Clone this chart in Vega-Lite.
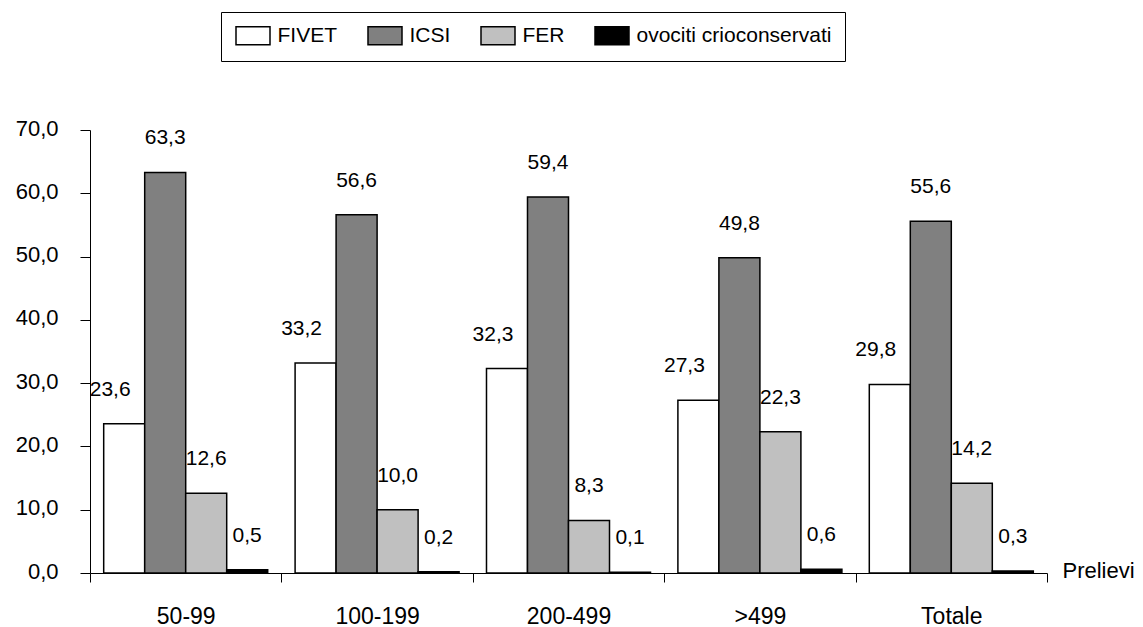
{
  "$schema": "https://vega.github.io/schema/vega-lite/v6.json",
  "width": 957,
  "height": 443,
  "autosize": {"type": "none"},
  "padding": {"left": 90, "top": 130, "right": 96, "bottom": 54},
  "config": {
    "view": {"stroke": null},
    "font": "Liberation Sans",
    "locale": {"number": {"decimal": ",", "thousands": ".", "grouping": [3], "currency": ["", " €"]}},
    "axis": {"domainColor": "black", "tickColor": "black", "labelColor": "black", "titleColor": "black", "grid": false, "domainWidth": 1, "tickWidth": 1}
  },
  "data": {
    "values": [
      {"prelievi": "50-99", "tecnica": "FIVET", "valore": 23.6},
      {"prelievi": "50-99", "tecnica": "ICSI", "valore": 63.3},
      {"prelievi": "50-99", "tecnica": "FER", "valore": 12.6},
      {"prelievi": "50-99", "tecnica": "ovociti crioconservati", "valore": 0.5},
      {"prelievi": "100-199", "tecnica": "FIVET", "valore": 33.2},
      {"prelievi": "100-199", "tecnica": "ICSI", "valore": 56.6},
      {"prelievi": "100-199", "tecnica": "FER", "valore": 10.0},
      {"prelievi": "100-199", "tecnica": "ovociti crioconservati", "valore": 0.2},
      {"prelievi": "200-499", "tecnica": "FIVET", "valore": 32.3},
      {"prelievi": "200-499", "tecnica": "ICSI", "valore": 59.4},
      {"prelievi": "200-499", "tecnica": "FER", "valore": 8.3},
      {"prelievi": "200-499", "tecnica": "ovociti crioconservati", "valore": 0.1},
      {"prelievi": ">499", "tecnica": "FIVET", "valore": 27.3},
      {"prelievi": ">499", "tecnica": "ICSI", "valore": 49.8},
      {"prelievi": ">499", "tecnica": "FER", "valore": 22.3},
      {"prelievi": ">499", "tecnica": "ovociti crioconservati", "valore": 0.6},
      {"prelievi": "Totale", "tecnica": "FIVET", "valore": 29.8},
      {"prelievi": "Totale", "tecnica": "ICSI", "valore": 55.6},
      {"prelievi": "Totale", "tecnica": "FER", "valore": 14.2},
      {"prelievi": "Totale", "tecnica": "ovociti crioconservati", "valore": 0.3}
    ]
  },
  "encoding": {
    "x": {
      "field": "prelievi",
      "type": "nominal",
      "sort": ["50-99", "100-199", "200-499", ">499", "Totale"],
      "scale": {"paddingInner": 0, "paddingOuter": 0},
      "axis": {
        "labelAngle": 0,
        "labelFontSize": 23,
        "labelPadding": 23,
        "tickSize": 9,
        "tickBand": "extent",
        "title": "Prelievi",
        "titleFontSize": 22,
        "titleFontWeight": "normal",
        "titleX": 972,
        "titleY": -3,
        "titleAlign": "left",
        "titleBaseline": "middle",
        "titleAngle": 0
      }
    },
    "xOffset": {
      "field": "tecnica",
      "type": "nominal",
      "sort": ["FIVET", "ICSI", "FER", "ovociti crioconservati"],
      "scale": {"paddingInner": 0, "paddingOuter": 0.334}
    },
    "y": {
      "field": "valore",
      "type": "quantitative",
      "scale": {"domain": [0, 70], "nice": false},
      "axis": {
        "title": null,
        "values": [0, 10, 20, 30, 40, 50, 60, 70],
        "format": ".1f",
        "labelFontSize": 22,
        "labelPadding": 22,
        "labelOffset": -2,
        "tickSize": 10
      }
    }
  },
  "layer": [
    {
      "mark": {"type": "bar", "stroke": "black", "strokeWidth": 1.5},
      "encoding": {
        "color": {
          "field": "tecnica",
          "type": "nominal",
          "scale": {
            "domain": ["FIVET", "ICSI", "FER", "ovociti crioconservati"],
            "range": ["#ffffff", "#808080", "#c0c0c0", "#000000"]
          },
          "legend": {
            "orient": "none",
            "legendX": 131,
            "legendY": -118,
            "direction": "horizontal",
            "columns": 4,
            "title": null,
            "symbolType": "M-2,-1.06H2V1.06H-2Z",
            "symbolSize": 289,
            "symbolOffset": 8.5,
            "symbolStrokeColor": "black",
            "symbolStrokeWidth": 1.5,
            "labelFontSize": 21,
            "labelColor": "black",
            "labelOffset": 14,
            "labelLimit": 400,
            "columnPadding": 27,
            "padding": 13,
            "strokeColor": "black"
          }
        }
      }
    },
    {
      "transform": [{"filter": "datum.tecnica === 'FIVET'"}],
      "mark": {"type": "text", "fontSize": 21, "color": "black", "baseline": "middle", "dy": -34, "dx": -14},
      "encoding": {"text": {"field": "valore", "type": "quantitative", "format": ".1f"}}
    },
    {
      "transform": [{"filter": "datum.tecnica !== 'FIVET'"}],
      "mark": {"type": "text", "fontSize": 21, "color": "black", "baseline": "middle", "dy": -34},
      "encoding": {"text": {"field": "valore", "type": "quantitative", "format": ".1f"}}
    }
  ]
}
